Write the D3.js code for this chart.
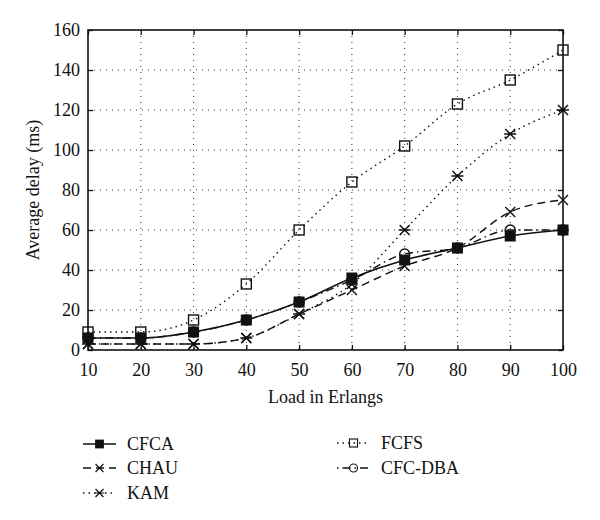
<!DOCTYPE html>
<html><head><meta charset="utf-8">
<script src="https://cdn.jsdelivr.net/npm/d3@7"></script>
<style>body{margin:0;background:#fff}svg{display:block}text{font-family:"Liberation Serif","DejaVu Serif",serif;fill:#111}</style>
</head><body>
<script>
const loads = [10,20,30,40,50,60,70,80,90,100];
const cfca   = [6,6,9,15,24,36,45,51,57,60];
const chau   = [3,3,3,6,18,30,42,51,69,75];
const kam    = [3,3,3,6,18,33,60,87,108,120];
const fcfs   = [9,9,15,33,60,84,102,123,135,150];
const cfcdba = [6,6,9,15,24,35,48,51,60,60];
const yTicks = [0,20,40,60,80,100,120,140,160];
const xTicks = [10,20,30,40,50,60,70,80,90,100];
const seriesNames = ["CFCA","CHAU","KAM","FCFS","CFC-DBA"];

const W=600,H=520, L=88,R=563,T=30,B=350;
const svg=d3.select("body").append("svg").attr("width",W).attr("height",H);
const x=d3.scaleLinear().domain([10,100]).range([L,R]);
const y=d3.scaleLinear().domain([0,160]).range([B,T]);

// grid
const g=svg.append("g");
g.selectAll(".vg").data(xTicks.slice(1,-1)).enter().append("line")
 .attr("x1",d=>x(d)).attr("x2",d=>x(d)).attr("y1",T).attr("y2",B)
 .attr("stroke","#333").attr("stroke-width",1).attr("stroke-dasharray","1,5");
g.selectAll(".hg").data(yTicks.slice(1,-1)).enter().append("line")
 .attr("y1",d=>y(d)).attr("y2",d=>y(d)).attr("x1",L).attr("x2",R)
 .attr("stroke","#333").attr("stroke-width",1).attr("stroke-dasharray","1,5");

// axes
const ax=d3.axisBottom(x).tickValues(xTicks).tickSize(-5).tickPadding(10).tickFormat(d3.format("d"));
const axG=svg.append("g").attr("transform",`translate(0,${B})`).call(ax);
const ay=d3.axisLeft(y).tickValues(yTicks).tickSize(-5).tickPadding(8).tickFormat(d3.format("d"));
const ayG=svg.append("g").attr("transform",`translate(${L},0)`).call(ay);
const axT=svg.append("g").attr("transform",`translate(0,${T})`).call(d3.axisTop(x).tickValues(xTicks).tickSize(-5).tickFormat(""));
const ayR=svg.append("g").attr("transform",`translate(${R},0)`).call(d3.axisRight(y).tickValues(yTicks).tickSize(-5).tickFormat(""));
[axG,ayG,axT,ayR].forEach(a=>{a.select(".domain").remove();a.selectAll("line").attr("stroke","#111").attr("stroke-width",1.3);a.selectAll("text").style("font-size","18px").style("font-family","'Liberation Serif',serif").attr("fill","#111");});
axG.selectAll("text").attr("dy","0.9em");
svg.append("rect").attr("x",L).attr("y",T).attr("width",R-L).attr("height",B-T).attr("fill","none").attr("stroke","#111").attr("stroke-width",1.6);

svg.append("text").attr("x",(L+R)/2).attr("y",403).attr("text-anchor","middle").style("font-size","18px").text("Load in Erlangs");
svg.append("text").attr("transform","translate(39,190) rotate(-90)").attr("text-anchor","middle").style("font-size","18px").text("Average delay (ms)");

const styles=[
 {vals:cfca,dash:null,w:1.5,marker:"fsq"},
 {vals:chau,dash:"8,5",w:1.4,marker:"x"},
 {vals:kam,dash:"1.5,4",w:1.4,marker:"ast"},
 {vals:fcfs,dash:"1.5,4",w:1.4,marker:"osq"},
 {vals:cfcdba,dash:"8,4,1.5,4",w:1.4,marker:"circ"}
];
function marker(sel,type,cx,cy,sc){
  const s=sel.append("g").attr("transform",`translate(${cx},${cy}) scale(${sc||1})`);
  if(type==="fsq") s.append("rect").attr("x",-5.5).attr("y",-5.5).attr("width",11).attr("height",11).attr("fill","#111");
  if(type==="osq") s.append("rect").attr("x",-5).attr("y",-5).attr("width",10).attr("height",10).attr("fill","none").attr("stroke","#111").attr("stroke-width",1.4);
  if(type==="circ") s.append("circle").attr("r",5).attr("fill","none").attr("stroke","#111").attr("stroke-width",1.4);
  if(type==="x"){s.append("path").attr("d","M-5,-5L5,5M-5,5L5,-5").attr("stroke","#111").attr("stroke-width",1.4);}
  if(type==="ast"){s.append("path").attr("d","M-5,-5L5,5M-5,5L5,-5M-6,0L6,0").attr("stroke","#111").attr("stroke-width",1.5);}
}
const line=d3.line().x((d,i)=>x(loads[i])).y(d=>y(d)).curve(d3.curveMonotoneX);
const plotG=svg.append("g");
[4,3,2,1,0].forEach(k=>{
  const st=styles[k];
  plotG.append("path").datum(st.vals).attr("d",line).attr("fill","none").attr("stroke","#111")
    .attr("stroke-width",st.w).attr("stroke-dasharray",st.dash);
  st.vals.forEach((v,i)=>marker(plotG,st.marker,x(loads[i]),y(v)));
});

// legend
const legPos=[[83,444],[83,468],[83,493],[337,443],[337,468]];
seriesNames.forEach((n,k)=>{
  const [lx,ly]=legPos[k]; const st=styles[k];
  svg.append("line").attr("x1",lx).attr("x2",lx+33).attr("y1",ly).attr("y2",ly).attr("stroke","#111")
    .attr("stroke-width",st.w).attr("stroke-dasharray",k===4?"1.5,4,8,4":st.dash);
  marker(svg,st.marker,lx+16.5,ly,0.8);
  svg.append("text").attr("x",lx+44).attr("y",ly).attr("dy","0.35em").style("font-size","18px").text(n);
});
</script>
</body></html>
